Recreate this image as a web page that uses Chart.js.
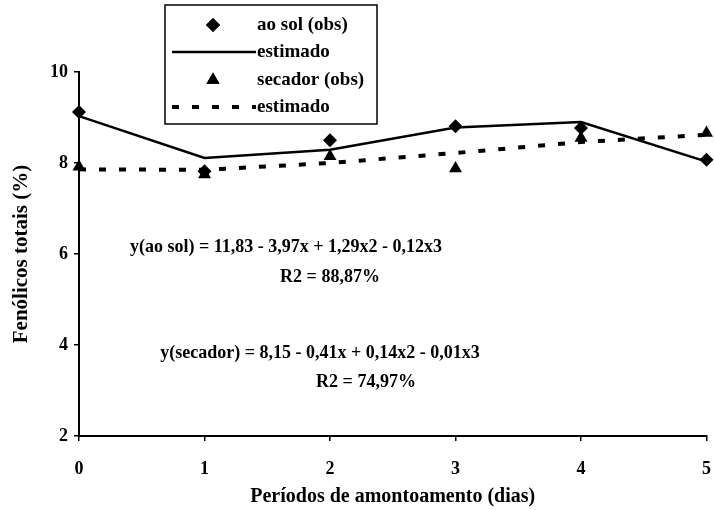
<!DOCTYPE html>
<html>
<head>
<meta charset="utf-8">
<script src="https://cdn.jsdelivr.net/npm/chart.js@4/dist/chart.umd.min.js"></script>
<style>
  html, body { margin: 0; padding: 0; background: #ffffff; }
  #wrap { width: 714px; height: 510px; position: relative; }
</style>
</head>
<body>
<div id="wrap"><canvas id="c" width="714" height="510"></canvas></div>
<script>
// Dias de amontoamento
const days = [0, 1, 2, 3, 4, 5];
// Fenólicos totais (%) observados e estimados
const aoSolObs = [9.12, 7.82, 8.50, 8.81, 8.77, 8.07];
const aoSolEst = [9.03, 8.11, 8.29, 8.78, 8.90, 8.03];
const secadorObs = [7.92, 7.75, 8.15, 7.88, 8.55, 8.66];
const secadorEst = [7.86, 7.85, 8.00, 8.22, 8.46, 8.62];
// Marcas dos eixos
const xTicks = [0, 1, 2, 3, 4, 5];
const yTicks = [2, 4, 6, 8, 10];
// Equações de regressão
const eqLines = [
  { text: 'y(ao sol) = 11,83 - 3,97x + 1,29x2 - 0,12x3', cx: 286, cy: 247 },
  { text: 'R2 = 88,87%', cx: 330, cy: 277 },
  { text: 'y(secador) = 8,15 - 0,41x + 0,14x2 - 0,01x3', cx: 320, cy: 353 },
  { text: 'R2 = 74,97%', cx: 366, cy: 382 }
];

const FONT = '"Liberation Serif", "Times New Roman", serif';
const pts = (ys) => days.map((d, i) => ({ x: d, y: ys[i] }));

// Legenda em caixa, desenhada a partir dos próprios datasets
const boxLegend = {
  id: 'boxLegend',
  afterDraw(chart) {
    const ctx = chart.ctx;
    const box = { x: 165, y: 5, w: 212, h: 119 };
    const rowsY = [25, 52, 80, 107];
    ctx.save();
    ctx.strokeStyle = '#000';
    ctx.lineWidth = 1.5;
    ctx.strokeRect(box.x, box.y, box.w, box.h);
    ctx.font = 'bold 19px ' + FONT;
    ctx.fillStyle = '#000';
    ctx.textBaseline = 'middle';
    chart.data.datasets.forEach((ds, i) => {
      const y = rowsY[i];
      if (ds.showLine === false) {
        ctx.save();
        ctx.fillStyle = '#000';
        Chart.helpers.drawPoint(ctx, {
          pointStyle: ds.pointStyle, radius: ds.pointRadius, rotation: 0, borderWidth: 0
        }, 213, y);
        ctx.fill();
        ctx.restore();
      } else {
        ctx.save();
        ctx.strokeStyle = '#000';
        ctx.lineWidth = ds.borderWidth;
        ctx.setLineDash(ds.borderDash || []);
        ctx.lineCap = ds.borderCapStyle || 'butt';
        ctx.beginPath();
        ctx.moveTo(172, y);
        ctx.lineTo(256, y);
        ctx.stroke();
        ctx.restore();
      }
      ctx.textAlign = 'left';
      ctx.fillText(ds.label, 257, y);
    });
    ctx.restore();
  }
};

// Equações das curvas ajustadas
const equations = {
  id: 'equations',
  afterDraw(chart) {
    const ctx = chart.ctx;
    ctx.save();
    ctx.font = 'bold 18px ' + FONT;
    ctx.fillStyle = '#000';
    ctx.textAlign = 'center';
    ctx.textBaseline = 'middle';
    eqLines.forEach(l => ctx.fillText(l.text, l.cx, l.cy));
    ctx.restore();
  }
};

const whiteBg = {
  id: 'whiteBg',
  beforeDraw(chart) {
    const ctx = chart.ctx;
    ctx.save();
    ctx.fillStyle = '#fff';
    ctx.fillRect(0, 0, chart.width, chart.height);
    ctx.restore();
  }
};

Chart.defaults.font.family = FONT;
Chart.defaults.font.weight = 'bold';
Chart.defaults.color = '#000';

new Chart(document.getElementById('c'), {
  type: 'line',
  data: {
    datasets: [
      {
        label: 'ao sol (obs)', data: pts(aoSolObs), showLine: false,
        pointStyle: 'rectRot', pointRadius: 7, pointBackgroundColor: '#000',
        pointBorderColor: '#000', pointBorderWidth: 0, clip: false
      },
      {
        label: 'estimado', data: pts(aoSolEst), borderColor: '#000',
        borderWidth: 2.5, pointRadius: 0, tension: 0, clip: false
      },
      {
        label: 'secador (obs)', data: pts(secadorObs), showLine: false,
        pointStyle: 'triangle', pointRadius: 7.5, pointBackgroundColor: '#000',
        pointBorderColor: '#000', pointBorderWidth: 0, clip: false
      },
      {
        label: 'estimado', data: pts(secadorEst), borderColor: '#000',
        borderWidth: 4, borderDash: [7, 13], pointRadius: 0, tension: 0, clip: false
      }
    ]
  },
  options: {
    responsive: false,
    animation: false,
    layout: { padding: { top: 72, right: 5, left: 0, bottom: 0 } },
    plugins: {
      legend: { display: false },
      tooltip: { enabled: false }
    },
    scales: {
      x: {
        type: 'linear', min: 0, max: 5,
        afterFit(s) {
          s.height = 74;
          s.paddingLeft = 0;
          s.paddingRight = 5;
          if (s._margins) { s._margins.left = 0; s._margins.right = 0; }
        },
        afterBuildTicks(s) { s.ticks = xTicks.map(v => ({ value: v })); },
        border: { display: true, color: '#000', width: 2 },
        grid: { display: true, drawOnChartArea: false, tickLength: 5, color: '#000', lineWidth: 1.5 },
        ticks: { padding: 18, font: { size: 18, weight: 'bold' }, color: '#000', maxRotation: 0 },
        title: {
          display: true, text: 'Períodos de amontoamento (dias)',
          font: { size: 20, weight: 'bold' }, color: '#000', padding: { top: 0, bottom: 1 }
        }
      },
      y: {
        type: 'linear', min: 2, max: 10,
        afterFit(s) { s.width = 79; },
        afterBuildTicks(s) { s.ticks = yTicks.map(v => ({ value: v })); },
        border: { display: true, color: '#000', width: 2 },
        grid: { display: true, drawOnChartArea: false, tickLength: 5, color: '#000', lineWidth: 1.5 },
        ticks: { padding: 6, font: { size: 18, weight: 'bold' }, color: '#000' },
        title: {
          display: true, text: 'Fenólicos totais (%)',
          font: { size: 21, weight: 'bold' }, color: '#000', padding: { top: 9, bottom: 0 }
        }
      }
    }
  },
  plugins: [whiteBg, boxLegend, equations]
});
</script>
</body>
</html>
